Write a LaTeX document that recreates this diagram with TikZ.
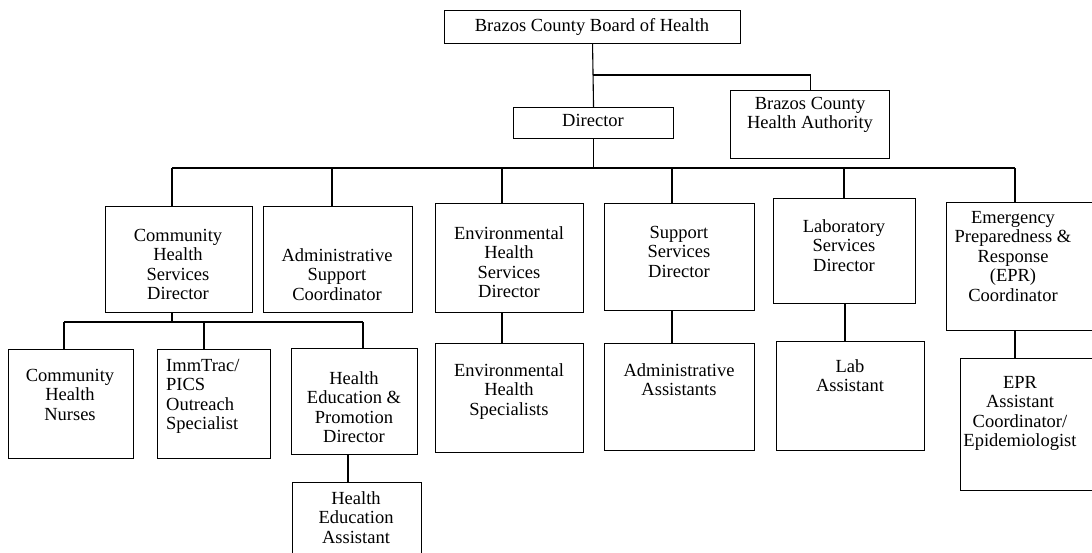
\documentclass[tikz,border=0pt]{standalone}
\usepackage{fontspec}
\setmainfont{Liberation Serif}
\tikzset{
  orgbox/.style={draw=black, line width=1.1pt, fill=none, inner sep=0pt},
  orgtxt/.style={align=center, inner sep=0pt, font=\fontsize{18.5}{19.5}\selectfont},
  orgline/.style={draw=black, line width=1.1pt}
}
\newcommand\orgbox[5]{\node[orgbox,anchor=north west,minimum width={(#4-#2)*1pt},minimum height={(#5-#3)*1pt}] (#1) at (#2,#3) {};}
\begin{document}
\begin{tikzpicture}[x=1pt,y=-1pt]
\useasboundingbox[fill=white] (0,0) rectangle (1092,552);
% boxes
\orgbox{board}{444}{10}{740}{43}
\orgbox{director}{513}{107}{673}{138}
\orgbox{auth}{730}{90}{889}{158}
\orgbox{chs}{105}{206}{252}{312}
\orgbox{admin}{263}{206}{412}{312}
\orgbox{envdir}{435}{203}{583}{312}
\orgbox{supp}{604}{203}{754}{310}
\orgbox{lab}{773}{198}{915}{303}
\orgbox{epr}{946}{202}{1100}{330}
\orgbox{nurses}{8}{349}{133}{458}
\orgbox{imm}{157}{349}{270}{458}
\orgbox{hep}{291}{348}{417}{454}
\orgbox{envspec}{435}{343}{583}{452}
\orgbox{adminasst}{604}{343}{754}{450}
\orgbox{labasst}{776}{341}{924}{450}
\orgbox{eprasst}{960}{358}{1100}{490}
\orgbox{hea}{292}{482}{421}{570}
% texts
\node[orgtxt,anchor=north] (board-t) at (592,18) {Brazos County Board of Health};
\node[orgtxt,anchor=north] (director-t) at (593,114) {Director};
\node[orgtxt,anchor=north] (auth-t) at (810,97) {Brazos County\\Health Authority};
\node[orgtxt,anchor=north] (chs-t) at (178,229) {Community\\Health\\Services\\Director};
\node[orgtxt,anchor=north] (admin-t) at (337,248) {Administrative\\Support\\Coordinator};
\node[orgtxt,anchor=north] (envdir-t) at (509,226) {Environmental\\Health\\Services\\Director};
\node[orgtxt,anchor=north] (supp-t) at (679,226) {Support\\Services\\Director};
\node[orgtxt,anchor=north] (lab-t) at (844,219) {Laboratory\\Services\\Director};
\node[orgtxt,anchor=north] (epr-t) at (1013,211) {Emergency\\Preparedness \&\\Response\\(EPR)\\Coordinator};
\node[orgtxt,anchor=north] (nurses-t) at (70,369) {Community\\Health\\Nurses};
\node[orgtxt,align=left,anchor=north west] (imm-t) at (166,359) {ImmTrac/\\PICS\\Outreach\\Specialist};
\node[orgtxt,anchor=north] (hep-t) at (354,371) {Health\\Education \&\\Promotion\\Director};
\node[orgtxt,anchor=north] (envspec-t) at (509,363) {Environmental\\Health\\Specialists};
\node[orgtxt,anchor=north] (adminasst-t) at (679,363) {Administrative\\Assistants};
\node[orgtxt,anchor=north] (labasst-t) at (850,359) {Lab\\Assistant};
\node[orgtxt,anchor=north] (eprasst-t) at (1020,376) {EPR\\Assistant\\Coordinator/\\Epidemiologist};
\node[orgtxt,anchor=north] (hea-t) at (356,491) {Health\\Education\\Assistant};
% connectors
\coordinate (j1) at (593,75);
\draw[orgline] (board.south) -- (director.north);
\draw[orgline] (j1) -| (auth.north);
\coordinate (busL) at (172,168);
\coordinate (busR) at (1015,168);
\coordinate (bAdm) at (332,168);
\coordinate (bEnv) at (502,168);
\coordinate (bSup) at (672,168);
\coordinate (bLab) at (844,168);
\draw[orgline] (director.south) -- (director.south |- busL);
\draw[orgline] (busL) -- (busR);
\draw[orgline] (busL) -- (busL |- chs.north);
\draw[orgline] (bAdm) -- (bAdm |- admin.north);
\draw[orgline] (bEnv) -- (bEnv |- envdir.north);
\draw[orgline] (bSup) -- (bSup |- supp.north);
\draw[orgline] (bLab) -- (bLab |- lab.north);
\draw[orgline] (busR) -- (busR |- epr.north);
% community health sub-branch
\coordinate (c0) at (172,322);
\coordinate (s1) at (64,322);
\coordinate (s2) at (204,322);
\coordinate (s3) at (363,322);
\draw[orgline] (c0 |- chs.south) -- (c0);
\draw[orgline] (s1) -- (s3);
\draw[orgline] (s1) -- (s1 |- nurses.north);
\draw[orgline] (s2) -- (s2 |- imm.north);
\draw[orgline] (s3) -- (s3 |- hep.north);
\coordinate (h0) at (348,0);
\draw[orgline] (h0 |- hep.south) -- (h0 |- hea.north);
% other sub-branches
\coordinate (e0) at (502,0);
\draw[orgline] (e0 |- envdir.south) -- (e0 |- envspec.north);
\coordinate (p0) at (672,0);
\draw[orgline] (p0 |- supp.south) -- (p0 |- adminasst.north);
\coordinate (l0) at (845,0);
\draw[orgline] (l0 |- lab.south) -- (l0 |- labasst.north);
\coordinate (r0) at (1015,0);
\draw[orgline] (r0 |- epr.south) -- (r0 |- eprasst.north);
\end{tikzpicture}
\end{document}
